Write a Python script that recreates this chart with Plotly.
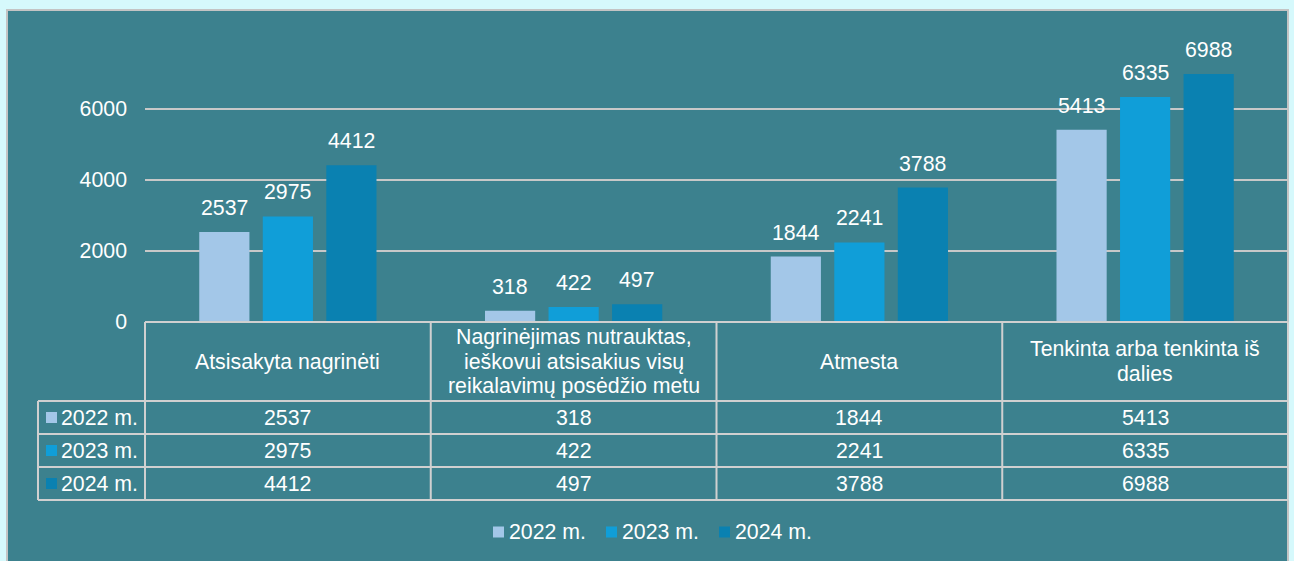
import plotly.graph_objects as go

# ---- data ----
categories = [
    "Atsisakyta nagrinėti",
    "Nagrinėjimas nutrauktas,<br>ieškovui atsisakius visų<br>reikalavimų posėdžio metu",
    "Atmesta",
    "Tenkinta arba tenkinta iš<br>dalies",
]
years = ["2022 m.", "2023 m.", "2024 m."]
v2022 = [2537, 318, 1844, 5413]
v2023 = [2975, 422, 2241, 6335]
v2024 = [4412, 497, 3788, 6988]
tick_vals = [0, 2000, 4000, 6000]

series = [v2022, v2023, v2024]
colors = ["#a3c7e8", "#109ed8", "#0a81b1"]

W, H = 1294, 561
FONT = "Liberation Sans, Arial, sans-serif"
FS = 21.3
WHITE = "#ffffff"
LINE = "#d0d0d0"
TEAL = "#3c818e"
OUTER = "#d6f9fc"


def px(x):
    return x / W


def py(y):
    return 1 - y / H


# layout geometry (pixels)
PLOT_L, PLOT_R = 145, 1288
ZERO_Y, TOP_Y = 322, 10
Y6000 = 109
y_max = 6000 * (ZERO_Y - TOP_Y) / (ZERO_Y - Y6000)
BARGAP, BARGROUPGAP = 0.333, 0.21
LINE_H = 24.5

TABLE_LEFT = 38
ROW_LINES = [401, 434, 467, 500]  # bottom of header, then rows

LEG_X0, LEG_STEP, LEG_Y, LEG_SQ = 493, 113, 532, 11

fig = go.Figure()
idx = list(range(len(categories)))
for name, vals, col in zip(years, series, colors):
    fig.add_trace(go.Bar(x=idx, y=vals, name=name, marker=dict(color=col, line=dict(width=0)),
                         hoverinfo="y+name"))

shapes = []
annotations = []

# teal panel
shapes.append(dict(type="rect", xref="paper", yref="paper", x0=px(7), x1=px(1288),
                   y0=-0.02, y1=py(TOP_Y), fillcolor=TEAL, line=dict(color="#c4c4c4", width=2),
                   layer="below"))

# bar value labels
slot = (1 - BARGAP) / len(series)
for j, vals in enumerate(series):
    for i, v in enumerate(vals):
        annotations.append(dict(x=i + (j - (len(series) - 1) / 2) * slot, y=v, xref="x", yref="y",
                                text=str(v), showarrow=False, yanchor="bottom", yshift=10,
                                font=dict(family=FONT, size=FS, color=WHITE)))

# data table
ncat = len(categories)
col_w = (PLOT_R - PLOT_L) / ncat
col_edges = [PLOT_L + k * col_w for k in range(ncat + 1)]
# horizontal lines
shapes.append(dict(type="line", xref="paper", yref="paper", x0=px(PLOT_L), x1=px(PLOT_R),
                   y0=py(ZERO_Y), y1=py(ZERO_Y), line=dict(color=LINE, width=2)))
for yl in ROW_LINES:
    shapes.append(dict(type="line", xref="paper", yref="paper", x0=px(TABLE_LEFT), x1=px(PLOT_R),
                       y0=py(yl), y1=py(yl), line=dict(color=LINE, width=2)))
# vertical lines
shapes.append(dict(type="line", xref="paper", yref="paper", x0=px(TABLE_LEFT), x1=px(TABLE_LEFT),
                   y0=py(ROW_LINES[0]), y1=py(ROW_LINES[-1]), line=dict(color=LINE, width=2)))
for xe in col_edges:
    shapes.append(dict(type="line", xref="paper", yref="paper", x0=px(xe), x1=px(xe),
                       y0=py(ZERO_Y), y1=py(ROW_LINES[-1]), line=dict(color=LINE, width=2)))

# header cells (one annotation per text line, tighter line spacing)
for k, cat in enumerate(categories):
    cx = (col_edges[k] + col_edges[k + 1]) / 2
    lines = cat.split("<br>")
    mid = (ZERO_Y + ROW_LINES[0]) / 2
    for n, ln in enumerate(lines):
        ly = mid + (n - (len(lines) - 1) / 2) * LINE_H
        annotations.append(dict(x=px(cx), y=py(ly), xref="paper", yref="paper",
                                text=ln, showarrow=False, xanchor="center", yanchor="middle",
                                font=dict(family=FONT, size=FS, color=WHITE)))

# value rows
for r, (name, vals, col) in enumerate(zip(years, series, colors)):
    top, bot = ROW_LINES[r], ROW_LINES[r + 1]
    cy = (top + bot) / 2
    shapes.append(dict(type="rect", xref="paper", yref="paper", x0=px(46), x1=px(57),
                       y0=py(cy + 5.5), y1=py(cy - 5.5), fillcolor=col, line=dict(width=0)))
    annotations.append(dict(x=px(59), y=py(cy), xref="paper", yref="paper", text=name,
                            showarrow=False, xanchor="left", yanchor="middle",
                            font=dict(family=FONT, size=FS, color=WHITE)))
    for k, v in enumerate(vals):
        cx = (col_edges[k] + col_edges[k + 1]) / 2
        annotations.append(dict(x=px(cx), y=py(cy), xref="paper", yref="paper", text=str(v),
                                showarrow=False, xanchor="center", yanchor="middle",
                                font=dict(family=FONT, size=FS, color=WHITE)))

# legend (bottom, drawn as keys + labels)
for j, (name, col) in enumerate(zip(years, colors)):
    lx = LEG_X0 + j * LEG_STEP
    shapes.append(dict(type="rect", xref="paper", yref="paper", x0=px(lx), x1=px(lx + LEG_SQ),
                       y0=py(LEG_Y + LEG_SQ / 2), y1=py(LEG_Y - LEG_SQ / 2), fillcolor=col,
                       line=dict(width=0)))
    annotations.append(dict(x=px(lx + LEG_SQ + 3), y=py(LEG_Y), xref="paper", yref="paper",
                            text=name, showarrow=False, xanchor="left", yanchor="middle",
                            font=dict(family=FONT, size=FS, color=WHITE)))

fig.update_layout(
    width=W, height=H,
    margin=dict(l=0, r=0, t=0, b=0, pad=0, autoexpand=False),
    paper_bgcolor=OUTER,
    plot_bgcolor="rgba(0,0,0,0)",
    barmode="group", bargap=BARGAP, bargroupgap=BARGROUPGAP,
    font=dict(family=FONT, size=FS, color=WHITE),
    xaxis=dict(domain=[px(PLOT_L), px(PLOT_R)], range=[-0.5, ncat - 0.5], visible=False,
               automargin=False),
    yaxis=dict(domain=[py(ZERO_Y), py(TOP_Y)], range=[0, y_max], tickvals=tick_vals,
               showgrid=True, gridcolor="#c8c8c8", gridwidth=1.5, zeroline=False,
               showline=False, ticks="", ticklabelstandoff=17, automargin=False,
               tickfont=dict(family=FONT, size=FS, color=WHITE)),
    showlegend=False,
    shapes=shapes,
    annotations=annotations,
)

fig.write_html(
    "out.html",
    config={"displayModeBar": False},
    post_script=(
        "document.body.style.margin='0';"
        "document.body.style.overflow='hidden';"
        "document.body.style.background='" + OUTER + "';"
    ),
)
